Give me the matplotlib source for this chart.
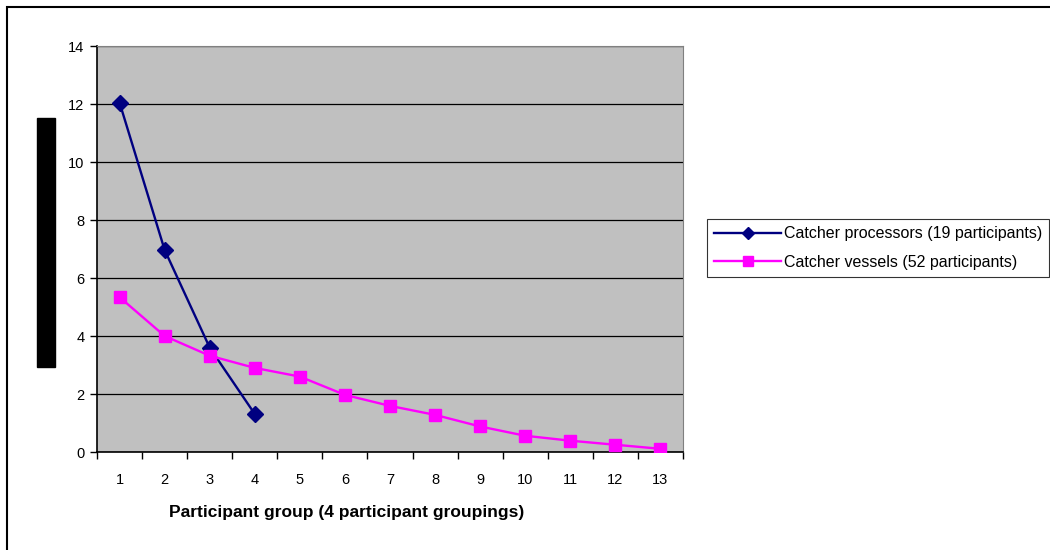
import matplotlib.pyplot as plt
from matplotlib.patches import Rectangle

# --- dati ---
groups = list(range(1, 14))
processors_x = [1, 2, 3, 4]
processors = [12.05, 6.97, 3.6, 1.31]
vessels = [5.34, 4.0, 3.32, 2.9, 2.6, 1.97, 1.59, 1.28, 0.88, 0.56, 0.39, 0.25, 0.11]
label_proc = "Catcher processors (19 participants)"
label_vess = "Catcher vessels (52 participants)"
xlabel = "Participant group (4 participant groupings)"

C_PROC = "#000080"
C_VESS = "#FF00FF"
W, H = 1050, 550

plt.rcParams["font.family"] = ["Liberation Sans", "DejaVu Sans"]

fig = plt.figure(figsize=(W / 100, H / 100), dpi=100)
ax = fig.add_axes([97 / W, 1 - 452 / H, (683 - 97) / W, (452 - 46) / H])
ax.set_facecolor("#C0C0C0")

# --- serie ---
ax.plot(processors_x, processors, color=C_PROC, lw=1.7, marker="D",
        markersize=8.5, label=label_proc, zorder=3)
ax.plot(groups, vessels, color=C_VESS, lw=1.7, marker="s",
        markersize=9, label=label_vess, zorder=3)

# --- assi ---
ax.set_xlim(0.5, 13.5)
ax.set_ylim(0, 14)
ax.set_yticks(range(0, 15, 2))
ax.yaxis.grid(True, color="black", lw=0.9)
ax.set_axisbelow(True)
ax.set_xticks([g - 0.5 for g in groups] + [13.5])
ax.set_xticklabels([])
ax.set_xticks(groups, minor=True)
ax.set_xticklabels([str(g) for g in groups], minor=True, fontsize=10.5)
ax.tick_params(axis="x", which="major", direction="out", length=5, width=1)
ax.tick_params(axis="x", which="minor", length=0, pad=15)
ax.tick_params(axis="y", direction="out", length=5, width=1, labelsize=10.5, pad=4)
for s in ["top", "right"]:
    ax.spines[s].set_color("#808080")
for s in ["left", "bottom"]:
    ax.spines[s].set_color("black")
    ax.spines[s].set_linewidth(1.2)

fig.text(347 / W, 1 - 512 / H, xlabel, ha="center", va="center",
         fontsize=12.5, fontweight="bold")

# --- legenda ---
leg = fig.legend(loc="upper left", bbox_to_anchor=(707 / W, 1 - 219 / H),
                 fontsize=11.5, frameon=True, fancybox=False, borderpad=0.45,
                 handlelength=4.2, handletextpad=0.15, labelspacing=0.85,
                 borderaxespad=0)
leg.get_frame().set_edgecolor("black")
leg.get_frame().set_linewidth(0.8)
for h in leg.legend_handles:
    h.set_markersize(6.5)

# --- rettangolo nero (etichetta y oscurata) e bordo ---
fig.patches.append(Rectangle((37 / W, 1 - 367 / H), 18 / W, (367 - 118) / H,
                             transform=fig.transFigure, color="black"))
fig.patches.append(Rectangle((7 / W, -0.1), 1.2, 1.1 - 7 / H,
                             transform=fig.transFigure, fill=False,
                             edgecolor="black", lw=1.5))

fig.savefig("out.png", dpi=100)
